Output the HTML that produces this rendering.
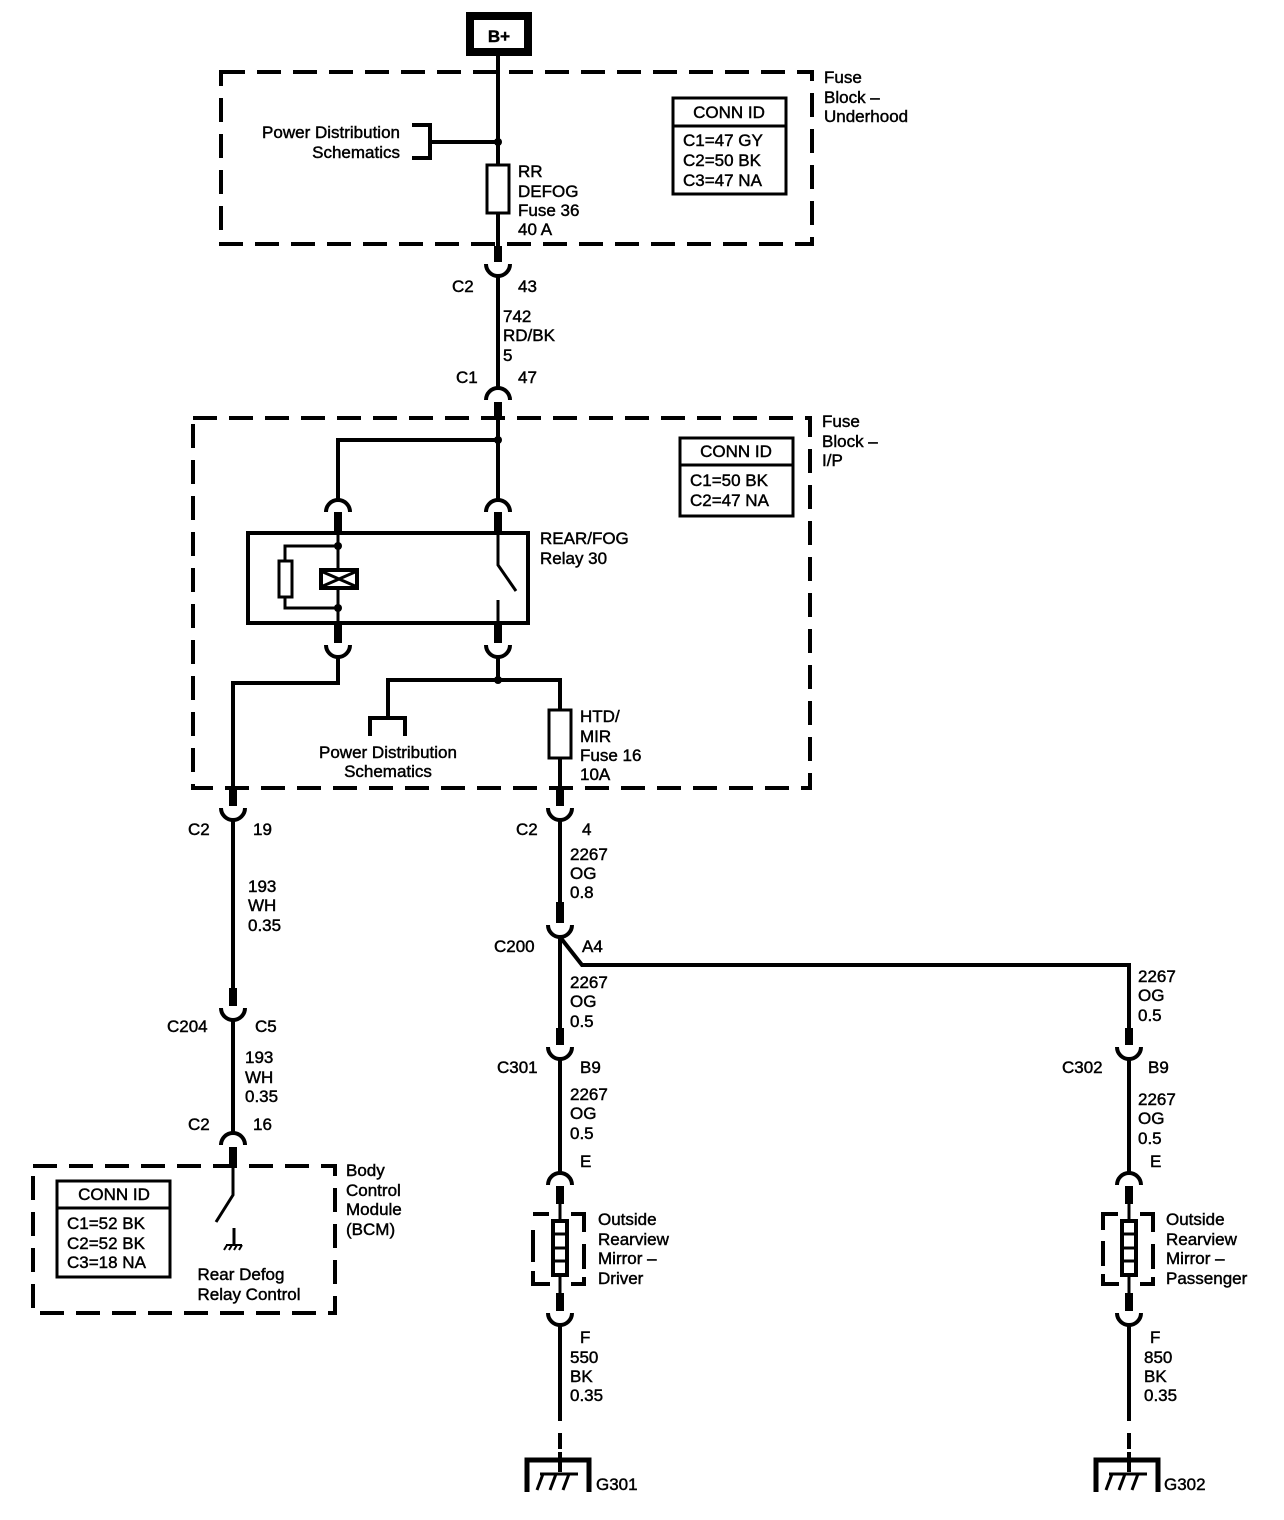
<!DOCTYPE html>
<html><head><meta charset="utf-8"><style>
html,body{margin:0;padding:0;background:#fff;}
svg{display:block;}
text{font-family:"Liberation Sans",sans-serif;font-size:17px;fill:#000;stroke:#000;stroke-width:0.45px;}
</style></head><body>
<svg width="1284" height="1520" viewBox="0 0 1284 1520" xmlns="http://www.w3.org/2000/svg">
<g fill="none" stroke="#000" stroke-width="4">
<rect x="470" y="16" width="58" height="36" stroke-width="8"/>
<rect x="221" y="72" width="591" height="172" stroke-dasharray="24 12"/>
<rect x="193" y="418" width="617" height="370" stroke-dasharray="24 12"/>
<rect x="33" y="1166" width="302" height="147" stroke-dasharray="24 12"/>
<path d="M498 56 V165 M498 213 V246"/>
<path d="M498 142 H430 M412 125 H430 V158 H412"/>
<rect x="487" y="165" width="22" height="48" stroke-width="3"/>
<rect x="673" y="98" width="113" height="96" stroke-width="3"/>
<path d="M673 126 H786" stroke-width="3"/>
<rect x="680" y="438" width="113" height="78" stroke-width="3"/>
<path d="M680 465 H793" stroke-width="3"/>
<rect x="57" y="1181" width="113" height="96" stroke-width="3"/>
<path d="M57 1208 H170" stroke-width="3"/>
<path d="M486 264 A12 12 0 0 0 510 264"/>
<path d="M498 276 V388"/>
<path d="M486 400 A12 12 0 0 1 510 400"/>
<path d="M498 418 V500 M498 440 H338 V500"/>
<path d="M326 512 A12 12 0 0 1 350 512 M486 512 A12 12 0 0 1 510 512"/>
<rect x="248" y="533" width="280" height="90"/>
<path d="M338 533 V569 M338 588 V623 M338 546 H285 V561 M285 597 V608 H338" stroke-width="3"/>
<rect x="279" y="561" width="13" height="36" stroke-width="3"/>
<rect x="321" y="570" width="36" height="18" stroke-width="4"/>
<path d="M323 572 L355 586 M355 572 L323 586" stroke-width="3"/>
<path d="M498 533 V565 L516 591 M498 600 V623" stroke-width="3"/>
<path d="M326 645 A12 12 0 0 0 350 645 M486 645 A12 12 0 0 0 510 645"/>
<path d="M338 657 V683 H233 V790"/>
<path d="M498 657 V680 M388 718 V680 H560 V710 M560 758 V790"/>
<path d="M370 736 V718 H405 V736"/>
<rect x="549" y="710" width="22" height="48" stroke-width="3"/>
<path d="M221 808 A12 12 0 0 0 245 808"/>
<path d="M233 820 V990"/>
<path d="M221 1008 A12 12 0 0 0 245 1008"/>
<path d="M233 1020 V1133"/>
<path d="M221 1145 A12 12 0 0 1 245 1145"/>
<path d="M233 1166 V1195 L216 1222 M234 1228 V1244" stroke-width="3"/>
<path d="M226 1245 H242 M227 1245 L224 1250 M232 1245 L229 1250 M237 1245 L234 1250 M242 1245 L239 1250" stroke-width="2"/>
<path d="M548 808 A12 12 0 0 0 572 808"/>
<path d="M560 820 V905"/>
<path d="M548 925 A12 12 0 0 0 572 925"/>
<path d="M560 937 V1035 M560 937 L582 965 H1129 V1035"/>
<path d="M548 1047 A12 12 0 0 0 572 1047 M1117 1047 A12 12 0 0 0 1141 1047"/>
<path d="M560 1059 V1173 M1129 1059 V1173"/>
<path d="M548 1185 A12 12 0 0 1 572 1185 M1117 1185 A12 12 0 0 1 1141 1185"/>
<path d="M560 1200 V1220 M560 1275 V1293 M1129 1200 V1220 M1129 1275 V1293" stroke-width="3"/>
<rect x="553" y="1221" width="14" height="54" stroke-width="4"/>
<path d="M553 1234 H567 M553 1248 H567 M553 1261 H567" stroke-width="3"/>
<rect x="1122" y="1221" width="14" height="54" stroke-width="4"/>
<path d="M1122 1234 H1136 M1122 1248 H1136 M1122 1261 H1136" stroke-width="3"/>
<path d="M549 1214 H533 M571 1214 H584 V1232 M584 1244 V1269 M533 1230 V1262 M533 1271 V1284 H550 M571 1284 H584 V1277" stroke-width="4"/>
<path d="M1118 1214 H1103 V1230 M1140 1214 H1153 V1232 M1153 1244 V1269 M1103 1241 V1266 M1103 1274 V1284 H1119 M1140 1284 H1153 V1277" stroke-width="4"/>
<path d="M548 1313 A12 12 0 0 0 572 1313 M1117 1313 A12 12 0 0 0 1141 1313"/>
<path d="M560 1325 V1405 M1129 1325 V1405"/>
<path d="M560 1405 V1472 M1129 1405 V1472" stroke-dasharray="16 12"/>
<path d="M527 1492 V1460 H589 V1492 M1096 1492 V1460 H1158 V1492" stroke-width="5"/>
<path d="M560 1452 V1472 M1129 1452 V1472"/>
<path d="M537 1490 L543 1474 M550 1490 L556 1474 M563 1490 L569 1474 M540 1474 H578 M1106 1490 L1112 1474 M1119 1490 L1125 1474 M1132 1490 L1138 1474 M1109 1474 H1147" stroke-width="3"/>
</g>
<g fill="#000">
<circle cx="498" cy="142" r="4"/><circle cx="498" cy="440" r="4"/><circle cx="498" cy="680" r="4"/>
<circle cx="338" cy="546" r="4"/><circle cx="338" cy="608" r="4"/>
<rect x="494" y="246" width="8" height="16"/>
<rect x="494" y="402" width="8" height="16"/>
<rect x="334" y="512" width="8" height="21"/><rect x="494" y="512" width="8" height="21"/>
<rect x="334" y="623" width="8" height="20"/><rect x="494" y="623" width="8" height="20"/>
<rect x="229" y="788" width="8" height="18"/><rect x="556" y="788" width="8" height="18"/>
<rect x="229" y="988" width="8" height="18"/>
<rect x="229" y="1147" width="8" height="18"/>
<rect x="556" y="902" width="8" height="21"/>
<rect x="556" y="1028" width="8" height="17"/><rect x="1125" y="1028" width="8" height="17"/>
<rect x="556" y="1186" width="8" height="18"/><rect x="1125" y="1186" width="8" height="18"/>
<rect x="556" y="1293" width="8" height="18"/><rect x="1125" y="1293" width="8" height="18"/>
</g>
<text x="499" y="42" text-anchor="middle" style="font-size:17px;font-weight:bold">B+</text>
<text x="400" y="138" text-anchor="end">Power Distribution</text>
<text x="400" y="158" text-anchor="end">Schematics</text>
<text x="518" y="177">RR</text><text x="518" y="197">DEFOG</text><text x="518" y="216">Fuse 36</text><text x="518" y="235">40 A</text>
<text x="729" y="118" text-anchor="middle">CONN ID</text>
<text x="683" y="146">C1=47 GY</text><text x="683" y="166">C2=50 BK</text><text x="683" y="186">C3=47 NA</text>
<text x="824" y="83">Fuse</text><text x="824" y="103">Block –</text><text x="824" y="122">Underhood</text>
<text x="452" y="292">C2</text><text x="518" y="292">43</text>
<text x="503" y="322">742</text><text x="503" y="341">RD/BK</text><text x="503" y="361">5</text>
<text x="456" y="383">C1</text><text x="518" y="383">47</text>
<text x="822" y="427">Fuse</text><text x="822" y="447">Block –</text><text x="822" y="466">I/P</text>
<text x="736" y="457" text-anchor="middle">CONN ID</text>
<text x="690" y="486">C1=50 BK</text><text x="690" y="506">C2=47 NA</text>
<text x="540" y="544">REAR/FOG</text><text x="540" y="564">Relay 30</text>
<text x="388" y="758" text-anchor="middle">Power Distribution</text>
<text x="388" y="777" text-anchor="middle">Schematics</text>
<text x="580" y="722">HTD/</text><text x="580" y="742">MIR</text><text x="580" y="761">Fuse 16</text><text x="580" y="780">10A</text>
<text x="188" y="835">C2</text><text x="253" y="835">19</text>
<text x="248" y="892">193</text><text x="248" y="911">WH</text><text x="248" y="931">0.35</text>
<text x="167" y="1032">C204</text><text x="255" y="1032">C5</text>
<text x="245" y="1063">193</text><text x="245" y="1083">WH</text><text x="245" y="1102">0.35</text>
<text x="188" y="1130">C2</text><text x="253" y="1130">16</text>
<text x="346" y="1176">Body</text><text x="346" y="1196">Control</text><text x="346" y="1215">Module</text><text x="346" y="1235">(BCM)</text>
<text x="114" y="1200" text-anchor="middle">CONN ID</text>
<text x="67" y="1229">C1=52 BK</text><text x="67" y="1249">C2=52 BK</text><text x="67" y="1268">C3=18 NA</text>
<text x="241" y="1280" text-anchor="middle">Rear Defog</text><text x="249" y="1300" text-anchor="middle">Relay Control</text>
<text x="516" y="835">C2</text><text x="582" y="835">4</text>
<text x="570" y="860">2267</text><text x="570" y="879">OG</text><text x="570" y="898">0.8</text>
<text x="494" y="952">C200</text><text x="582" y="952">A4</text>
<text x="570" y="988">2267</text><text x="570" y="1007">OG</text><text x="570" y="1027">0.5</text>
<text x="1138" y="982">2267</text><text x="1138" y="1001">OG</text><text x="1138" y="1021">0.5</text>
<text x="497" y="1073">C301</text><text x="580" y="1073">B9</text>
<text x="1062" y="1073">C302</text><text x="1148" y="1073">B9</text>
<text x="570" y="1100">2267</text><text x="570" y="1119">OG</text><text x="570" y="1139">0.5</text>
<text x="1138" y="1105">2267</text><text x="1138" y="1124">OG</text><text x="1138" y="1144">0.5</text>
<text x="580" y="1167">E</text><text x="1150" y="1167">E</text>
<text x="598" y="1225">Outside</text><text x="598" y="1245">Rearview</text><text x="598" y="1264">Mirror –</text><text x="598" y="1284">Driver</text>
<text x="1166" y="1225">Outside</text><text x="1166" y="1245">Rearview</text><text x="1166" y="1264">Mirror –</text><text x="1166" y="1284">Passenger</text>
<text x="580" y="1343">F</text><text x="1150" y="1343">F</text>
<text x="570" y="1363">550</text><text x="570" y="1382">BK</text><text x="570" y="1401">0.35</text>
<text x="1144" y="1363">850</text><text x="1144" y="1382">BK</text><text x="1144" y="1401">0.35</text>
<text x="596" y="1490">G301</text><text x="1164" y="1490">G302</text>
</svg>
</body></html>
